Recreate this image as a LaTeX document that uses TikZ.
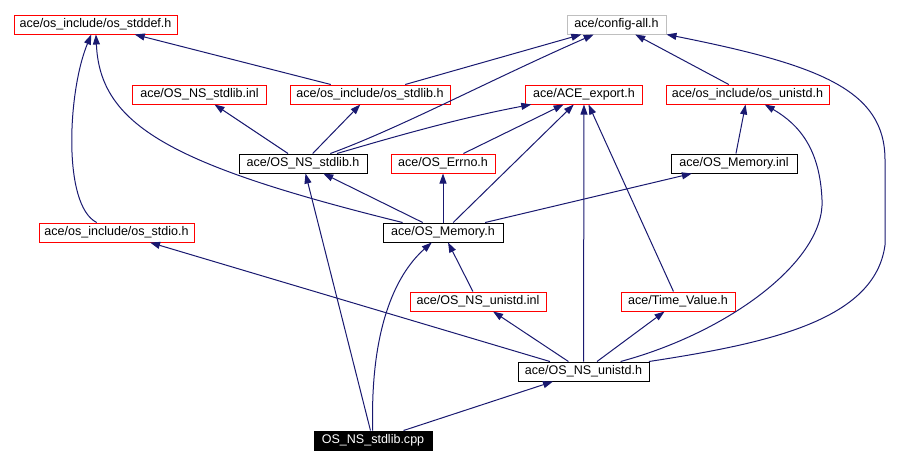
\documentclass[tikz,border=0pt]{standalone}
\usepackage{fontspec}
\setmainfont{Liberation Sans}
\usetikzlibrary{arrows.meta}
\definecolor{edgeblue}{RGB}{25,25,112}
\definecolor{boxgray}{RGB}{191,191,191}

\begin{document}
\begin{tikzpicture}[x=0.75pt, y=-0.75pt,
	incbox/.style={draw=red, line width=0.75pt, inner sep=0pt, minimum height=14.25pt,
		font=\fontsize{9.4}{11}\selectfont},
	srcbox/.style={incbox, draw=black},
	cfgbox/.style={incbox, draw=boxgray},
	rootbox/.style={incbox, draw=black, fill=black, text=white},
	boxw/.style={minimum width=#1*0.75pt},
	dep/.style={draw=edgeblue, line width=0.75pt, -{Triangle[length=7.5pt,width=5.25pt]}}]
	\useasboundingbox (0,0) rectangle (912,465);

	% top row
	\node[incbox, boxw=163] (stddef) at (95.5,24.5) {ace/os\_include/os\_stddef.h};
	\node[cfgbox, boxw=99] (config) at (616.5,24.5) {ace/config-all.h};
	% second row
	\node[incbox, boxw=134] (stdlibinl) at (199.5,94.5) {ace/OS\_NS\_stdlib.inl};
	\node[incbox, boxw=160] (osstdlib) at (370,94.5) {ace/os\_include/os\_stdlib.h};
	\node[incbox, boxw=117] (aceexport) at (584,94.5) {ace/ACE\_export.h};
	\node[incbox, boxw=163] (osunistd) at (747.5,94.5) {ace/os\_include/os\_unistd.h};
	% third row
	\node[srcbox, boxw=128] (nsstdlib) at (303,163.5) {ace/OS\_NS\_stdlib.h};
	\node[incbox, boxw=104] (errno) at (443,163.5) {ace/OS\_Errno.h};
	\node[srcbox, boxw=126] (meminl) at (734,163.5) {ace/OS\_Memory.inl};
	% fourth row
	\node[incbox, boxw=155] (osstdio) at (116.5,232.5) {ace/os\_include/os\_stdio.h};
	\node[srcbox, boxw=120] (memh) at (443,232.5) {ace/OS\_Memory.h};
	% lower rows
	\node[incbox, boxw=136] (unistdinl) at (478,301.5) {ace/OS\_NS\_unistd.inl};
	\node[incbox, boxw=114] (timevalue) at (678,301.5) {ace/Time\_Value.h};
	\node[srcbox, boxw=131] (unistdh) at (583.5,371.5) {ace/OS\_NS\_unistd.h};
	\node[rootbox, boxw=118] (cpp) at (373,440.5) {OS\_NS\_stdlib.cpp};

	% includes of os_stddef.h and config-all.h
	\draw[dep] (osstdio) .. controls (62,205) and (68,90) .. (stddef);
	\draw[dep] (memh) .. controls (170,165) and (100,125) .. (stddef);
	\draw[dep] (osstdlib) -- (stddef);
	\draw[dep] (osstdlib) -- (config);
	\draw[dep] (nsstdlib) .. controls (400,128) and (490,80) .. (config);
	\draw[dep] (osunistd) -- (config);
	\draw[dep] (unistdh) .. controls (770,343) and (875,320) .. (885,245) -- (885,160)
		.. controls (885,90) and (820,65) .. (config);

	% OS_NS_stdlib.h
	\draw[dep] (nsstdlib) -- (stdlibinl);
	\draw[dep] (nsstdlib) -- (osstdlib);
	\draw[dep] (nsstdlib) .. controls (400,135) and (460,118) .. (aceexport);

	% ACE_export.h
	\draw[dep] (errno) -- (aceexport);
	\draw[dep] (memh) -- (aceexport);
	\draw[dep] (unistdh) -- (aceexport);
	\draw[dep] (timevalue) -- (aceexport);

	% os_unistd.h
	\draw[dep] (meminl) -- (osunistd);
	\draw[dep] (unistdh) .. controls (730,332) and (825,260) .. (822,200)
		.. controls (820,150) and (800,125) .. (osunistd);

	% OS_Memory.h
	\draw[dep] (memh) -- (nsstdlib);
	\draw[dep] (memh) -- (errno);
	\draw[dep] (memh) -- (meminl);
	\draw[dep] (unistdinl) -- (memh);

	% OS_NS_unistd.h
	\draw[dep] (unistdh) -- (osstdio);
	\draw[dep] (unistdh) -- (unistdinl);
	\draw[dep] (unistdh) -- (timevalue);

	% OS_NS_stdlib.cpp
	\draw[dep] (cpp) -- (nsstdlib);
	\draw[dep] (cpp) .. controls (370,330) and (395,275) .. (memh);
	\draw[dep] (cpp) -- (unistdh);
\end{tikzpicture}
\end{document}
